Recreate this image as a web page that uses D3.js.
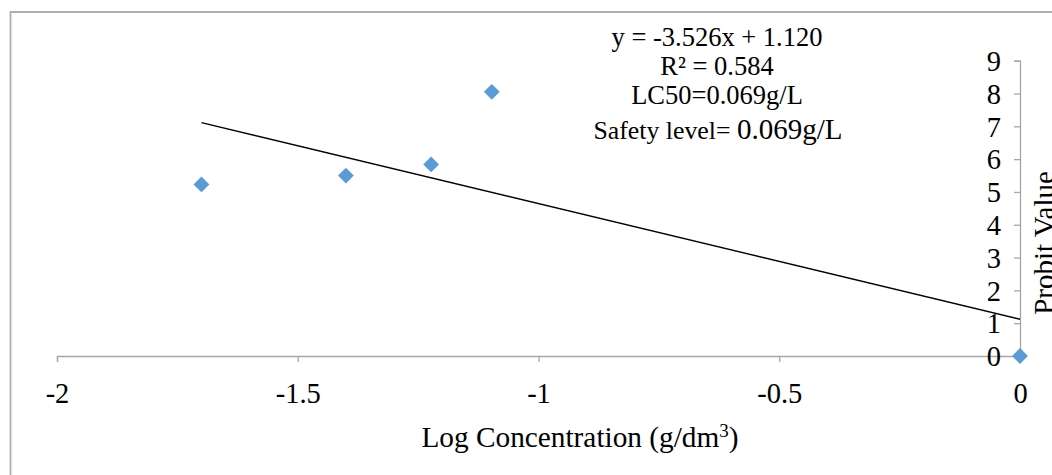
<!DOCTYPE html>
<html>
<head>
<meta charset="utf-8">
<script src="https://cdn.jsdelivr.net/npm/d3@7"></script>
<style>
  html, body { margin: 0; padding: 0; background: #fff; }
  svg { display: block; }
  text { font-family: "Liberation Serif", "Times New Roman", serif; fill: #000; }
</style>
</head>
<body>
<svg id="chart" width="1052" height="475"></svg>
<script>
// ---- data ----
const logConc = [-1.70, -1.40, -1.223, -1.097, 0];
const probit = [5.23, 5.50, 5.84, 8.05, 0];
const trendSlope = -3.526;
const trendIntercept = 1.120;
const trendRange = [-1.70, 0];
const xTicks = [-2, -1.5, -1, -0.5, 0];
const yTicks = [0, 1, 2, 3, 4, 5, 6, 7, 8, 9];
const annotationLines = ["y = -3.526x + 1.120", "R² = 0.584", "LC50=0.069g/L"];
const safetyLabel = "Safety level= ";
const safetyValue = "0.069g/L";
const xTitle = "Log Concentration (g/dm";
const xTitleSup = "3";
const yTitle = "Probit Value";

// ---- layout ----
const svg = d3.select("#chart");
const W = 1052, H = 475;
const plot = { left: 57, right: 1020, top: 60.7, bottom: 356 };
const axisColor = "#A6A6A6";

const x = d3.scaleLinear().domain([-2, 0]).range([plot.left, plot.right]);
const y = d3.scaleLinear().domain([0, 9]).range([plot.bottom, plot.top]);

// outer border (chart area frame, cropped on right/bottom)
svg.append("path")
  .attr("d", `M10.5,${H + 2} L10.5,12 L${W + 2},12`)
  .attr("fill", "none")
  .attr("stroke", "#ADADAD")
  .attr("stroke-width", 1.8);

// x axis at y=0
const xAxis = d3.axisBottom(x).tickValues(xTicks).tickSize(6);
const gx = svg.append("g").attr("transform", `translate(0,${y(0)})`).call(xAxis);
gx.select(".domain").attr("stroke", axisColor).attr("stroke-width", 1.3);
gx.selectAll(".tick line").attr("stroke", axisColor).attr("stroke-width", 1.3);
gx.selectAll(".tick text")
  .attr("font-size", 28.5)
  .attr("font-family", "Liberation Serif")
  .attr("fill", "#000")
  .attr("y", 0)
  .attr("dy", 0)
  .attr("transform", "translate(0,47)")
  .text(d => String(d));

// y axis at x=0
const yAxis = d3.axisLeft(y).tickValues(yTicks).tickSize(6);
const gy = svg.append("g").attr("transform", `translate(${x(0)},0)`).call(yAxis);
gy.select(".domain").attr("stroke", axisColor).attr("stroke-width", 1.3);
gy.selectAll(".tick line").attr("stroke", axisColor).attr("stroke-width", 1.3);
gy.selectAll(".tick text")
  .attr("font-size", 28.5)
  .attr("font-family", "Liberation Serif")
  .attr("fill", "#000")
  .attr("x", -19)
  .attr("dy", "0.34em");

// trendline
const trendData = trendRange.map(v => [v, trendSlope * v + trendIntercept]);
svg.append("path")
  .datum(trendData)
  .attr("d", d3.line().x(d => x(d[0])).y(d => y(d[1])))
  .attr("fill", "none")
  .attr("stroke", "#000")
  .attr("stroke-width", 1.4);

// markers (diamonds)
const pts = logConc.map((v, i) => ({ x: v, y: probit[i] }));
svg.append("g").selectAll("path")
  .data(pts)
  .join("path")
  .attr("d", d3.symbol(d3.symbolSquare, 125))
  .attr("transform", d => `translate(${x(d.x)},${y(d.y)}) rotate(45)`)
  .attr("fill", "#5B9BD5");

// annotation
const ann = svg.append("g").attr("text-anchor", "middle");
const annBase = [46, 75, 104];
annotationLines.forEach((t, i) => {
  ann.append("text").attr("x", 717).attr("y", annBase[i]).attr("font-size", 26.5).text(t);
});
const safe = ann.append("text").attr("x", 718).attr("y", 139);
safe.append("tspan").attr("font-size", 25.8).text(safetyLabel);
safe.append("tspan").attr("font-size", 29).text(safetyValue);

// x title
const xt = svg.append("text").attr("x", 580).attr("y", 447).attr("text-anchor", "middle").attr("font-size", 29.3);
xt.append("tspan").text(xTitle);
xt.append("tspan").attr("font-size", 19).attr("dy", -10).text(xTitleSup);
xt.append("tspan").attr("dy", 10).text(")");

// y title (rotated, cropped at right edge as in the reference)
svg.append("text")
  .attr("transform", `translate(1054,243) rotate(-90)`)
  .attr("text-anchor", "middle")
  .attr("font-size", 29)
  .text(yTitle);
</script>
</body>
</html>
